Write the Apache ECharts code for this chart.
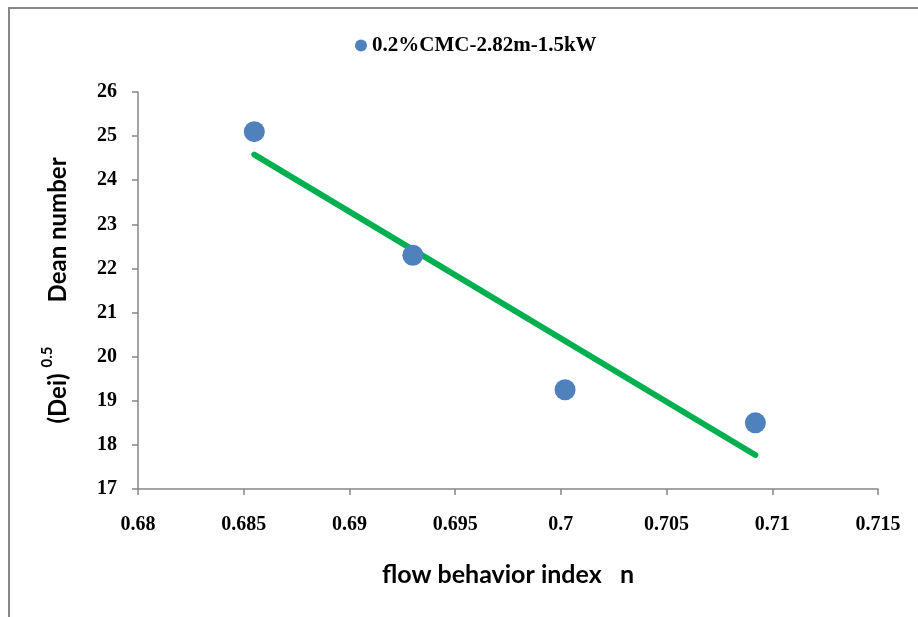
<!DOCTYPE html>
<html>
<head>
<meta charset="utf-8">
<script src="https://cdn.jsdelivr.net/npm/echarts@6/dist/echarts.min.js"></script>
<style>
  html, body { margin: 0; padding: 0; background: #fff; }
  #chart { width: 918px; height: 617px; }
</style>
</head>
<body>
<div id="chart"></div>
<script>
// measured points
const seriesName = '0.2%CMC-2.82m-1.5kW';
const flowIndex = [0.6855, 0.693, 0.7002, 0.7092];
const deanNumber = [25.1, 22.3, 19.25, 18.5];
// linear trend line, end points
const trendX = [0.6855, 0.7092];
const trendY = [24.58, 17.77];

const serif = '"Liberation Serif", "Times New Roman", serif';
const sans = 'Lato, "Open Sans", sans-serif';
const axisGray = '#868686';

const chart = echarts.init(document.getElementById('chart'));

chart.setOption({
    animation: false,
    backgroundColor: '#fff',
    graphic: [{
        type: 'rect',
        shape: { x: 9, y: 8, width: 1000, height: 700 },
        style: { fill: 'none', stroke: '#878787', lineWidth: 2 },
        silent: true
    }],
    legend: {
        data: [seriesName],
        left: 350,
        top: 30,
        icon: 'circle',
        itemWidth: 12,
        itemHeight: 12,
        textStyle: { fontFamily: serif, fontWeight: 'bold', fontSize: 21, color: '#000' }
    },
    grid: { left: 138, right: 40, top: 92, bottom: 128 },
    xAxis: {
        type: 'value',
        min: 0.68,
        max: 0.715,
        interval: 0.005,
        name: 'flow behavior index   n',
        nameLocation: 'middle',
        nameGap: 73,
        nameTextStyle: { fontFamily: sans, fontWeight: 'bold', fontSize: 25, color: '#000' },
        axisLine: { lineStyle: { color: axisGray, width: 1.5 } },
        axisTick: { inside: false, length: 6, lineStyle: { color: axisGray, width: 1.5 } },
        splitLine: { show: false },
        axisLabel: {
            margin: 26,
            fontFamily: serif, fontWeight: 'bold', fontSize: 20, color: '#000',
            formatter: v => String(parseFloat(v.toFixed(3)))
        }
    },
    yAxis: {
        type: 'value',
        min: 17,
        max: 26,
        interval: 1,
        name: '{a|(Dei)}{s|0.5}{a|Dean number}',
        nameLocation: 'middle',
        nameRotate: 90,
        nameGap: 68,
        nameTextStyle: {
            fontFamily: sans, fontWeight: 'bold', fontSize: 24, color: '#000',
            rich: {
                a: { fontFamily: sans, fontWeight: 'bold', fontSize: 24, color: '#000', lineHeight: 30, verticalAlign: 'bottom' },
                s: { fontFamily: sans, fontWeight: 'bold', fontSize: 15, color: '#000', lineHeight: 30, verticalAlign: 'top', padding: [0, 44, 0, 6] }
            }
        },
        axisLine: { show: true, lineStyle: { color: axisGray, width: 1.5 } },
        axisTick: { show: true, inside: false, length: 6, lineStyle: { color: axisGray, width: 1.5 } },
        splitLine: { show: false },
        axisLabel: {
            margin: 21,
            fontFamily: serif, fontWeight: 'bold', fontSize: 20, color: '#000'
        }
    },
    series: [
        {
            name: 'trend',
            type: 'line',
            data: trendX.map((x, i) => [x, trendY[i]]),
            showSymbol: false,
            lineStyle: { color: '#00B050', width: 6, cap: 'round' },
            z: 2
        },
        {
            name: seriesName,
            type: 'scatter',
            data: flowIndex.map((x, i) => [x, deanNumber[i]]),
            symbolSize: 21,
            itemStyle: { color: '#4F81BD', opacity: 1 },
            z: 3
        }
    ]
});
</script>
</body>
</html>
